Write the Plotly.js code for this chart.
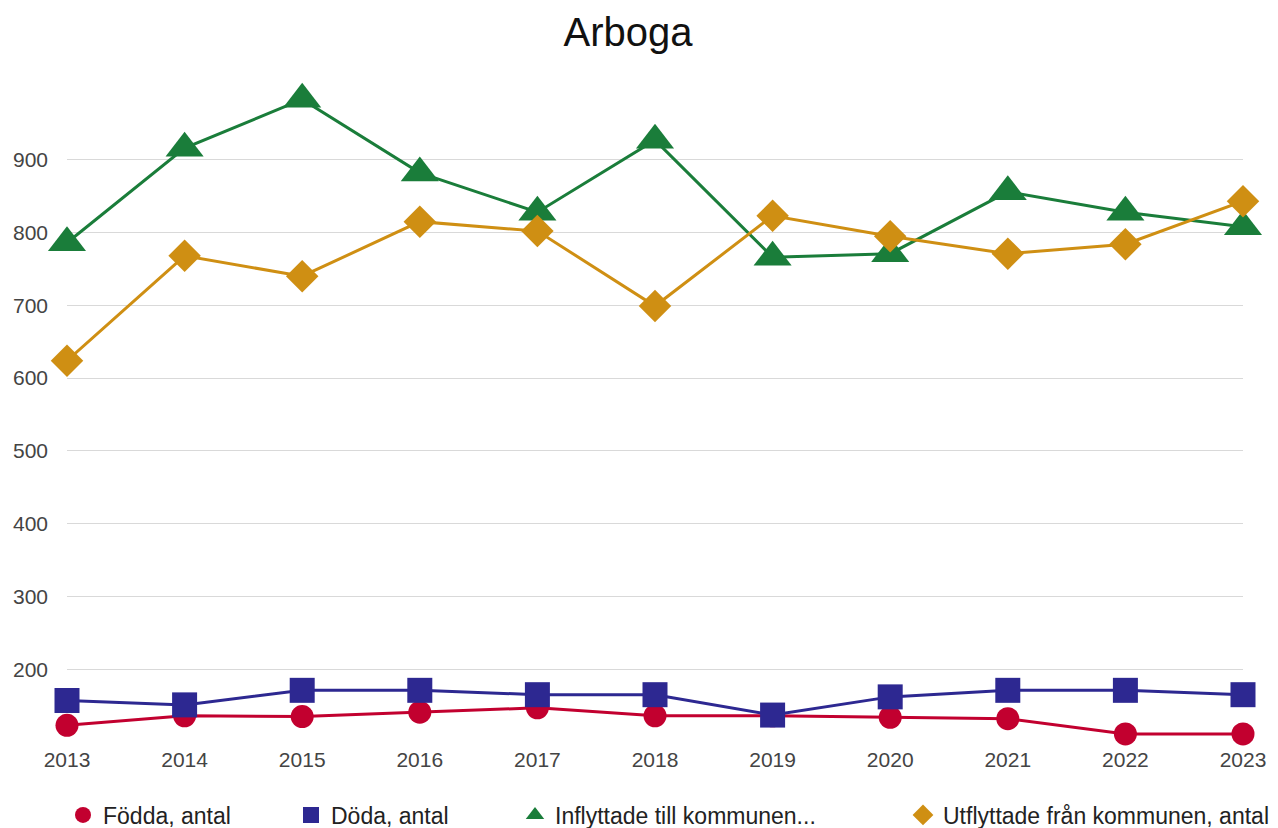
<!DOCTYPE html>
<html><head><meta charset="utf-8">
<script src="https://cdn.plot.ly/plotly-3.0.1.min.js"></script>
<style>html,body{margin:0;padding:0;background:#fff;} #chart{width:1278px;height:828px;}</style>
</head><body><div id="chart"></div>
<script>
// ---- data ----
const years = [2013, 2014, 2015, 2016, 2017, 2018, 2019, 2020, 2021, 2022, 2023];
const fodda = [123, 136, 135, 141, 147, 136, 136, 134, 132, 111, 111];
const doda = [157, 151, 171, 171, 165, 165, 137, 162, 171, 171, 165];
const inflyttade = [786, 916, 983, 882, 828, 927, 766, 771, 856, 828, 808];
const utflyttade = [624, 768, 740, 815, 802, 699, 823, 795, 771, 784, 843];
const seriesNames = ["Födda, antal", "Döda, antal", "Inflyttade till kommunen...", "Utflyttade från kommunen, antal"];
const yTickVals = [200, 300, 400, 500, 600, 700, 800, 900];
const chartTitle = "Arboga";

// ---- styles ----
const series = [fodda, doda, inflyttade, utflyttade];
const colors = ["#c2002f", "#2d2891", "#1a7d3a", "#cf8f13"];
const symbols = ["circle", "square", "triangle-up", "diamond"];
const sizes = [23, 25, 33, 25];
const legendIds = ["legend", "legend2", "legend3", "legend4"];
const legendX = [63, 291, 515, 903];

const FONT = "Liberation Sans, Arial, sans-serif";
const traces = [];
series.forEach((vals, i) => {
  traces.push({
    x: years, y: vals, type: "scatter", mode: "lines",
    line: {color: colors[i], width: 3},
    showlegend: false, hoverinfo: "skip", cliponaxis: false
  });
});
series.forEach((vals, i) => {
  traces.push({
    x: years, y: vals, type: "scatter", mode: "markers",
    name: seriesNames[i],
    marker: {color: colors[i], symbol: symbols[i], size: sizes[i], line: {width: 0}},
    legend: legendIds[i], cliponaxis: false
  });
});

const layout = {
  width: 1278, height: 828,
  paper_bgcolor: "#ffffff", plot_bgcolor: "#ffffff",
  font: {family: FONT, color: "#444"},
  margin: {l: 67, r: 35, t: 87, b: 86, autoexpand: false},
  title: {
    text: chartTitle,
    font: {family: FONT, size: 40, color: "#111"},
    x: 628 / 1278, xanchor: "center", xref: "container",
    y: 1 - 32 / 828, yanchor: "middle", yref: "container"
  },
  xaxis: {
    range: [2013, 2023], tickmode: "array", tickvals: years, ticktext: years.map(String),
    showgrid: false, zeroline: false, showline: false, ticks: "",
    ticklabelstandoff: 3,
    tickfont: {family: FONT, size: 21, color: "#444"}
  },
  yaxis: {
    range: [100, 1000], tickmode: "array", tickvals: yTickVals,
    showgrid: true, gridcolor: "#d9d9d9", gridwidth: 1.2,
    zeroline: false, showline: false, ticks: "",
    ticklabelstandoff: 18,
    tickfont: {family: FONT, size: 21, color: "#444"}
  },
  showlegend: true
};
legendIds.forEach((id, i) => {
  layout[id] = {
    orientation: "h", xref: "container", yref: "container",
    x: legendX[i] / 1278, xanchor: "left",
    y: 1 - 815 / 828, yanchor: "middle",
    font: {family: FONT, size: 23, color: "#222"},
    bgcolor: "rgba(0,0,0,0)", borderwidth: 0
  };
});

Plotly.newPlot("chart", traces, layout, {staticPlot: true, displayModeBar: false});
</script>
</body></html>
